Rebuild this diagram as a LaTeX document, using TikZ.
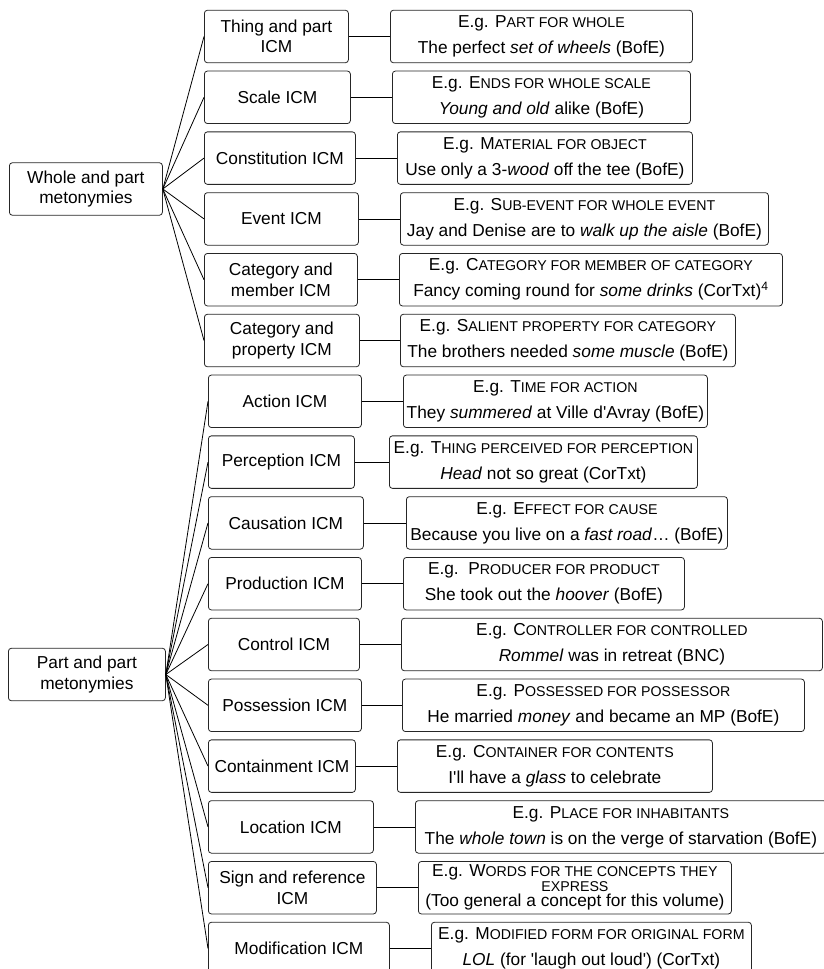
\documentclass[tikz,border=0pt]{standalone}
\usepackage{fontspec}
\setmainfont{Liberation Sans}
\newcommand{\smc}[1]{{\fontsize{14.2}{14.2}\selectfont\MakeUppercase{#1}}}

\begin{document}
\begin{tikzpicture}[x=1pt,y=-1pt,line width=0.8pt,-]
    \tikzstyle{box}=[draw=black!85,rounded corners=3pt,inner sep=2pt,minimum height=52.5pt,align=center,anchor=west]
    \tikzstyle{icm}=[box,font=\fontsize{17.3}{20.5}\selectfont]
    \tikzstyle{eg}=[box,font=\fontsize{17.3}{26}\selectfont]
    \useasboundingbox (0,0) rectangle (823,969);

    \node[icm,minimum width=153pt] (whole) at (9,189) {Whole and part\\metonymies};
    \node[icm,minimum width=157pt] (partpart) at (8,674.5) {Part and part\\metonymies};

    % whole and part
    \foreach \i/\w/\lab/\ex/\exw/\txt in {
        0/144/{Thing and part\\ICM}/390/302/{E.g. P\smc{art for whole}\\The perfect \textit{set of wheels} (BofE)},
        1/146/{Scale ICM}/392/298/{E.g. E\smc{nds for whole scale}\\\textit{Young and old} alike (BofE)},
        2/151/{Constitution ICM}/397/295/{E.g. M\smc{aterial for object}\\Use only a 3-\textit{wood} off the tee (BofE)},
        3/154/{Event ICM}/400/368/{E.g. S\smc{ub-event for whole event}\\Jay and Denise are to \textit{walk up the aisle} (BofE)},
        4/153/{Category and\\member ICM}/399/383/{E.g. C\smc{ategory for member of category}\\Fancy coming round for \textit{some drinks} (CorTxt)\textsuperscript{4}},
        5/155/{Category and\\property ICM}/400/335/{E.g. S\smc{alient property for category}\\The brothers needed \textit{some muscle} (BofE)}}
    {
        \node[icm,minimum width=\w pt] (icm-\i) at (204,{36.5+60.8*\i}) {\lab};
        \node[eg,minimum width=\exw pt] (ex-\i) at (\ex,{36.5+60.8*\i}) {\txt};
        \draw (whole.east) -- (icm-\i.west);
        \draw (icm-\i.east) -- (ex-\i.west);
    }

    % part and part
    \foreach \i/\w/\lab/\ex/\exw/\txt in {
        6/153/{Action ICM}/403/304/{E.g. T\smc{ime for action}\\They \textit{summered} at Ville d\textquotesingle Avray (BofE)},
        7/146/{Perception ICM}/389/308/{E.g. T\smc{hing perceived for perception}\\\textit{Head} not so great (CorTxt)},
        8/155/{Causation ICM}/406/321/{E.g. E\smc{ffect for cause}\\Because you live on a \textit{fast road}\ldots{} (BofE)},
        9/153/{Production ICM}/403/281/{E.g.\ \ P\smc{roducer for product}\\She took out the \textit{hoover} (BofE)},
        10/151/{Control ICM}/401/421/{E.g. C\smc{ontroller for controlled}\\\textit{Rommel} was in retreat (BNC)},
        11/153/{Possession ICM}/402/402/{E.g. P\smc{ossessed for possessor}\\He married \textit{money} and became an MP (BofE)},
        12/147/{Containment ICM}/397/315/{E.g. C\smc{ontainer for contents}\\I\textquotesingle ll have a \textit{glass} to celebrate},
        13/165/{Location ICM}/415/411/{E.g. P\smc{lace for inhabitants}\\The \textit{whole town} is on the verge of starvation (BofE)},
        14/168/{Sign and reference\\ICM}/418/313/{E.g. W\smc{ords for the concepts they}\\[-11pt]\smc{express}\\[-11pt](Too general a concept for this volume)},
        15/181/{Modification ICM}/431/320/{E.g. M\smc{odified form for original form}\\\textit{LOL} (for \textquotesingle laugh out loud\textquotesingle) (CorTxt)}}
    {
        \node[icm,minimum width=\w pt] (icm-\i) at (208,{36.5+60.8*\i}) {\lab};
        \node[eg,minimum width=\exw pt] (ex-\i) at (\ex,{36.5+60.8*\i}) {\txt};
        \draw (partpart.east) -- (icm-\i.west);
        \draw (icm-\i.east) -- (ex-\i.west);
    }
\end{tikzpicture}
\end{document}
